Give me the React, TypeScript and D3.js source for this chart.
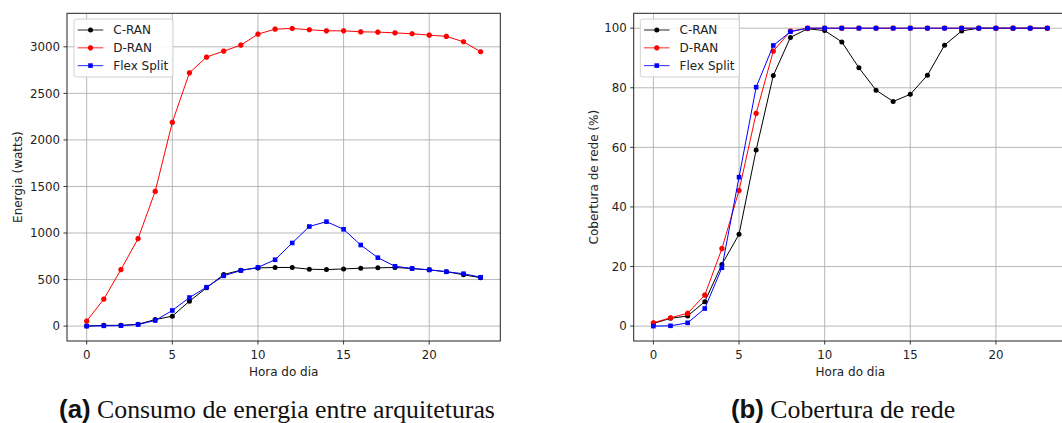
import React from "react";
import { useEffect, useRef } from "react";
import * as d3 from "d3";

const hours = d3.range(0, 24);

const energyCRAN = [0, 8, 8, 20, 70, 107, 268, 411, 554, 601, 625, 630, 630, 611, 607, 614, 622, 626, 630, 618, 604, 585, 551, 520];
const energyDRAN = [54, 290, 607, 940, 1448, 2189, 2721, 2890, 2954, 3018, 3136, 3190, 3197, 3183, 3172, 3172, 3161, 3158, 3150, 3140, 3126, 3112, 3054, 2947];
const energyFlex = [0, 3, 5, 17, 60, 168, 307, 418, 540, 597, 631, 713, 893, 1070, 1122, 1040, 871, 735, 643, 619, 604, 584, 563, 525];

const coverCRAN = [0.9, 2.6, 3.4, 8.2, 20.7, 30.8, 59.1, 84.1, 96.9, 99.8, 99.2, 95.4, 86.7, 79.2, 75.4, 77.8, 84.2, 94.3, 99.1, 100, 100, 100, 100, 100];
const coverDRAN = [1.1, 2.8, 4.3, 10.4, 26, 45.5, 71.4, 92.3, 99, 100, 100, 100, 100, 100, 100, 100, 100, 100, 100, 100, 100, 100, 100, 100];
const coverFlex = [0, 0.1, 1.1, 5.9, 19.6, 50, 80.2, 94.2, 98.8, 100, 100, 100, 100, 100, 100, 100, 100, 100, 100, 100, 100, 100, 100, 100];

const seriesNames = ["C-RAN", "D-RAN", "Flex Split"];
const seriesColors = ["#000000", "#ff0000", "#0000ff"];
const xTicks = [0, 5, 10, 15, 20];
const energyTicks = [0, 500, 1000, 1500, 2000, 2500, 3000];
const coverTicks = [0, 20, 40, 60, 80, 100];

const FONT = "DejaVu Sans, sans-serif";

function octagon(r) {
  const pts = d3.range(8).map((i) => {
    const a = (Math.PI / 8) + (i * Math.PI) / 4;
    return [r * Math.cos(a), r * Math.sin(a)];
  });
  return "M" + pts.map((p) => p.join(",")).join("L") + "Z";
}

function drawMarker(g, kind, x, y, color) {
  if (kind === 0) {
    g.append("circle").attr("cx", x).attr("cy", y).attr("r", 2.5).attr("fill", color);
  } else if (kind === 1) {
    g.append("path").attr("d", octagon(2.8)).attr("transform", `translate(${x},${y})`).attr("fill", color);
  } else {
    g.append("rect").attr("x", x - 2.3).attr("y", y - 2.3).attr("width", 4.6).attr("height", 4.6).attr("fill", color);
  }
}

function drawPanel(svg, opts) {
  const { left, right, top, bottom, yDomain, yTicks, series, yLabel, yLabelX, legendX, caption, captionX } = opts;
  const x = d3.scaleLinear().domain([-1.15, 24.15]).range([left, right]);
  const y = d3.scaleLinear().domain(yDomain).range([bottom, top]);
  const g = svg.append("g");

  // grid
  g.selectAll(".gx").data(xTicks).join("line")
    .attr("x1", (d) => x(d)).attr("x2", (d) => x(d))
    .attr("y1", top).attr("y2", bottom)
    .attr("stroke", "#b0b0b0").attr("stroke-width", 0.9);
  g.selectAll(".gy").data(yTicks).join("line")
    .attr("x1", left).attr("x2", right)
    .attr("y1", (d) => y(d)).attr("y2", (d) => y(d))
    .attr("stroke", "#b0b0b0").attr("stroke-width", 0.9);

  // lines + markers
  const line = d3.line().x((d, i) => x(hours[i])).y((d) => y(d));
  series.forEach((vals, k) => {
    g.append("path").attr("d", line(vals)).attr("fill", "none")
      .attr("stroke", seriesColors[k]).attr("stroke-width", 1);
    vals.forEach((v, i) => drawMarker(g, k, x(hours[i]), y(v), seriesColors[k]));
  });

  // spines
  g.append("rect").attr("x", left).attr("y", top).attr("width", right - left).attr("height", bottom - top)
    .attr("fill", "none").attr("stroke", "#222").attr("stroke-width", 1);

  // ticks
  xTicks.forEach((t) => {
    g.append("line").attr("x1", x(t)).attr("x2", x(t)).attr("y1", bottom).attr("y2", bottom + 3.5)
      .attr("stroke", "#222").attr("stroke-width", 0.9);
    g.append("text").attr("x", x(t)).attr("y", bottom + 18).attr("text-anchor", "middle")
      .style("font-family", FONT).style("font-size", "11.8px").attr("fill", "#222").text(t);
  });
  yTicks.forEach((t) => {
    g.append("line").attr("x1", left - 3.5).attr("x2", left).attr("y1", y(t)).attr("y2", y(t))
      .attr("stroke", "#222").attr("stroke-width", 0.9);
    g.append("text").attr("x", left - 7).attr("y", y(t) + 4.3).attr("text-anchor", "end")
      .style("font-family", FONT).style("font-size", "11.8px").attr("fill", "#222").text(t);
  });

  g.append("text").attr("x", (left + right) / 2).attr("y", bottom + 34.5).attr("text-anchor", "middle")
    .style("font-family", FONT).style("font-size", "12px").attr("fill", "#222").text("Hora do dia");
  g.append("text").attr("transform", `translate(${yLabelX},${(top + bottom) / 2}) rotate(-90)`)
    .attr("text-anchor", "middle").attr("dy", "0.35em")
    .style("font-family", FONT).style("font-size", "12px").attr("fill", "#222").text(yLabel);

  // legend
  const lg = g.append("g");
  lg.append("rect").attr("x", legendX).attr("y", top + 5.7).attr("width", 99).attr("height", 58)
    .attr("rx", 2.5).attr("fill", "white").attr("fill-opacity", 0.85)
    .attr("stroke", "#cccccc").attr("stroke-width", 0.9);
  seriesNames.forEach((name, k) => {
    const ly = 30 + k * 17.8;
    lg.append("line").attr("x1", legendX + 3.7).attr("x2", legendX + 29.3).attr("y1", ly).attr("y2", ly)
      .attr("stroke", seriesColors[k]).attr("stroke-width", 1.2).attr("stroke-opacity", 0.7);
    drawMarker(lg, k, legendX + 16.5, ly, seriesColors[k]);
    lg.append("text").attr("x", legendX + 39.3).attr("y", ly + 4.4)
      .style("font-family", FONT).style("font-size", "12px").attr("fill", "#222").text(name);
  });

  // caption
  const cap = svg.append("text").attr("x", captionX).attr("y", 418).attr("text-anchor", "middle")
    .style("font-size", "25.8px").attr("fill", "#111");
  cap.append("tspan").style("font-family", "Liberation Sans, Arial, sans-serif").style("font-weight", "bold")
    .text(caption[0]);
  cap.append("tspan").style("font-family", "Liberation Serif, Times New Roman, serif").text(" " + caption[1]);
}

const App = () => {
  const svgRef = useRef(null);
  useEffect(() => {
    const svg = d3.select(svgRef.current);
    svg.selectAll("*").remove();
    svg.append("rect").attr("width", 1062).attr("height", 423).attr("fill", "white");
    drawPanel(svg, {
      left: 67, right: 500.3, top: 13.3, bottom: 341,
      yDomain: [-160, 3360], yTicks: energyTicks,
      series: [energyCRAN, energyDRAN, energyFlex],
      yLabel: "Energia (watts)", yLabelX: 18, legendX: 74,
      caption: ["(a)", "Consumo de energia entre arquiteturas"], captionX: 277,
    });
    drawPanel(svg, {
      left: 633.7, right: 1067, top: 13.3, bottom: 341,
      yDomain: [-5, 105], yTicks: coverTicks,
      series: [coverCRAN, coverDRAN, coverFlex],
      yLabel: "Cobertura de rede (%)", yLabelX: 594, legendX: 640.3,
      caption: ["(b)", "Cobertura de rede"], captionX: 843,
    });
  }, []);
  return (
    <svg ref={svgRef} width={1062} height={423}
      style={{ position: "absolute", left: 0, top: 0, display: "block" }} />
  );
};

export default App;
